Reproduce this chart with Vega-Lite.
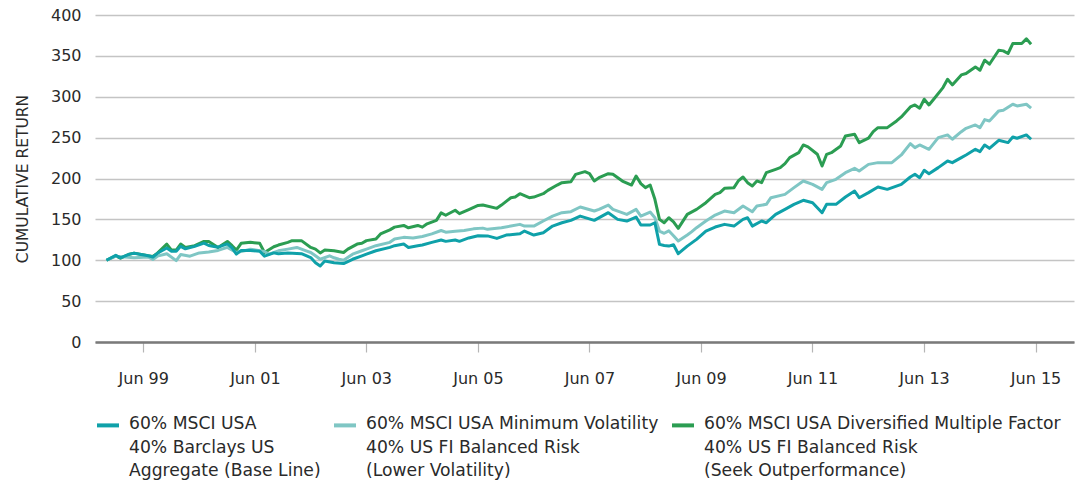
{
"$schema": "https://vega.github.io/schema/vega-lite/v6.json",
"width": 979, "height": 327,
"autosize": {"type": "none"},
"padding": {"left": 95, "top": 15, "right": 6, "bottom": 147},
"background": "white",
"config": {"view": {"stroke": null}, "font": "DejaVu Sans"},
"data": {"values": [
{"d":"1998-11-01","s":"multi","v":100},{"d":"1999-01-01","s":"multi","v":105.4},{"d":"1999-02-01","s":"multi","v":102.5},{"d":"1999-04-01","s":"multi","v":107.4},{"d":"1999-05-01","s":"multi","v":108.7},{"d":"1999-08-01","s":"multi","v":105.4},{"d":"1999-09-01","s":"multi","v":104.5},{"d":"1999-10-01","s":"multi","v":108.7},{"d":"1999-12-01","s":"multi","v":119.8},{"d":"2000-01-01","s":"multi","v":112.4},{"d":"2000-02-01","s":"multi","v":112.4},{"d":"2000-03-01","s":"multi","v":119.8},{"d":"2000-04-01","s":"multi","v":115.7},{"d":"2000-06-01","s":"multi","v":117.8},{"d":"2000-08-01","s":"multi","v":123},{"d":"2000-09-01","s":"multi","v":123},{"d":"2000-11-01","s":"multi","v":115.7},{"d":"2001-01-01","s":"multi","v":123},{"d":"2001-02-01","s":"multi","v":117.8},{"d":"2001-03-01","s":"multi","v":112.4},{"d":"2001-04-01","s":"multi","v":120.7},{"d":"2001-06-01","s":"multi","v":121.9},{"d":"2001-08-01","s":"multi","v":120.7},{"d":"2001-09-01","s":"multi","v":109.5},{"d":"2001-11-01","s":"multi","v":116.5},{"d":"2001-12-01","s":"multi","v":118.6},{"d":"2002-02-01","s":"multi","v":121.9},{"d":"2002-03-01","s":"multi","v":124},{"d":"2002-05-01","s":"multi","v":124},{"d":"2002-07-01","s":"multi","v":115.7},{"d":"2002-08-01","s":"multi","v":113.6},{"d":"2002-09-01","s":"multi","v":109},{"d":"2002-10-01","s":"multi","v":112.6},{"d":"2002-12-01","s":"multi","v":111.6},{"d":"2003-02-01","s":"multi","v":109.5},{"d":"2003-03-01","s":"multi","v":113.6},{"d":"2003-05-01","s":"multi","v":119.8},{"d":"2003-06-01","s":"multi","v":120.7},{"d":"2003-07-01","s":"multi","v":124},{"d":"2003-09-01","s":"multi","v":126},{"d":"2003-10-01","s":"multi","v":132.2},{"d":"2003-12-01","s":"multi","v":137.2},{"d":"2004-01-01","s":"multi","v":140.5},{"d":"2004-03-01","s":"multi","v":142.6},{"d":"2004-04-01","s":"multi","v":139.7},{"d":"2004-06-01","s":"multi","v":142.6},{"d":"2004-07-01","s":"multi","v":140.5},{"d":"2004-08-01","s":"multi","v":144.6},{"d":"2004-10-01","s":"multi","v":148.8},{"d":"2004-11-01","s":"multi","v":157.9},{"d":"2004-12-01","s":"multi","v":155},{"d":"2005-02-01","s":"multi","v":161.2},{"d":"2005-03-01","s":"multi","v":157},{"d":"2005-05-01","s":"multi","v":162},{"d":"2005-07-01","s":"multi","v":167},{"d":"2005-08-01","s":"multi","v":167.5},{"d":"2005-11-01","s":"multi","v":163.5},{"d":"2005-12-01","s":"multi","v":167.5},{"d":"2006-02-01","s":"multi","v":176.5},{"d":"2006-03-01","s":"multi","v":177.3},{"d":"2006-04-01","s":"multi","v":181.4},{"d":"2006-06-01","s":"multi","v":176.5},{"d":"2006-07-01","s":"multi","v":177.3},{"d":"2006-09-01","s":"multi","v":181.4},{"d":"2006-10-01","s":"multi","v":185.5},{"d":"2006-12-01","s":"multi","v":192},{"d":"2007-01-01","s":"multi","v":194.9},{"d":"2007-03-01","s":"multi","v":196.1},{"d":"2007-04-01","s":"multi","v":205.1},{"d":"2007-06-01","s":"multi","v":208.4},{"d":"2007-07-01","s":"multi","v":206},{"d":"2007-08-01","s":"multi","v":196.9},{"d":"2007-09-01","s":"multi","v":201},{"d":"2007-11-01","s":"multi","v":205.9},{"d":"2007-12-01","s":"multi","v":205.1},{"d":"2008-02-01","s":"multi","v":196.9},{"d":"2008-04-01","s":"multi","v":192},{"d":"2008-05-01","s":"multi","v":203},{"d":"2008-06-01","s":"multi","v":193.7},{"d":"2008-07-01","s":"multi","v":188.8},{"d":"2008-08-01","s":"multi","v":192},{"d":"2008-09-01","s":"multi","v":174.5},{"d":"2008-10-01","s":"multi","v":150},{"d":"2008-11-01","s":"multi","v":145.9},{"d":"2008-12-01","s":"multi","v":152},{"d":"2009-01-01","s":"multi","v":147},{"d":"2009-02-01","s":"multi","v":139},{"d":"2009-04-01","s":"multi","v":156.1},{"d":"2009-06-01","s":"multi","v":162.2},{"d":"2009-08-01","s":"multi","v":170.4},{"d":"2009-10-01","s":"multi","v":180.6},{"d":"2009-11-01","s":"multi","v":182.7},{"d":"2009-12-01","s":"multi","v":188},{"d":"2010-02-01","s":"multi","v":188.8},{"d":"2010-03-01","s":"multi","v":197},{"d":"2010-04-01","s":"multi","v":201.8},{"d":"2010-05-01","s":"multi","v":194.9},{"d":"2010-06-01","s":"multi","v":190.8},{"d":"2010-07-01","s":"multi","v":197},{"d":"2010-08-01","s":"multi","v":194.9},{"d":"2010-09-01","s":"multi","v":207.1},{"d":"2010-11-01","s":"multi","v":211.2},{"d":"2010-12-01","s":"multi","v":213.3},{"d":"2011-01-01","s":"multi","v":218.2},{"d":"2011-02-01","s":"multi","v":225.5},{"d":"2011-04-01","s":"multi","v":231.6},{"d":"2011-05-01","s":"multi","v":241},{"d":"2011-06-01","s":"multi","v":238.6},{"d":"2011-08-01","s":"multi","v":229.6},{"d":"2011-09-01","s":"multi","v":215.3},{"d":"2011-10-01","s":"multi","v":229.6},{"d":"2011-11-01","s":"multi","v":231.6},{"d":"2012-01-01","s":"multi","v":239.8},{"d":"2012-02-01","s":"multi","v":252},{"d":"2012-04-01","s":"multi","v":254.1},{"d":"2012-05-01","s":"multi","v":243.9},{"d":"2012-07-01","s":"multi","v":249.5},{"d":"2012-08-01","s":"multi","v":257.3},{"d":"2012-09-01","s":"multi","v":262.2},{"d":"2012-11-01","s":"multi","v":262.2},{"d":"2013-01-01","s":"multi","v":270.4},{"d":"2013-02-01","s":"multi","v":275.3},{"d":"2013-04-01","s":"multi","v":287.6},{"d":"2013-05-01","s":"multi","v":290},{"d":"2013-06-01","s":"multi","v":286},{"d":"2013-07-01","s":"multi","v":297},{"d":"2013-08-01","s":"multi","v":290},{"d":"2013-09-01","s":"multi","v":297},{"d":"2013-11-01","s":"multi","v":311.2},{"d":"2013-12-01","s":"multi","v":321.4},{"d":"2014-01-01","s":"multi","v":314.5},{"d":"2014-03-01","s":"multi","v":326.7},{"d":"2014-04-01","s":"multi","v":328.4},{"d":"2014-06-01","s":"multi","v":336.5},{"d":"2014-07-01","s":"multi","v":332.4},{"d":"2014-08-01","s":"multi","v":344.7},{"d":"2014-09-01","s":"multi","v":339.8},{"d":"2014-11-01","s":"multi","v":356.9},{"d":"2014-12-01","s":"multi","v":356.1},{"d":"2015-01-01","s":"multi","v":352.9},{"d":"2015-02-01","s":"multi","v":365.1},{"d":"2015-04-01","s":"multi","v":365.1},{"d":"2015-05-01","s":"multi","v":370.8},{"d":"2015-06-01","s":"multi","v":364.3},
{"d":"1998-11-01","s":"minvol","v":100},{"d":"1999-01-01","s":"minvol","v":105},{"d":"1999-05-01","s":"minvol","v":103},{"d":"1999-08-01","s":"minvol","v":104},{"d":"1999-09-01","s":"minvol","v":101},{"d":"1999-10-01","s":"minvol","v":105},{"d":"1999-12-01","s":"minvol","v":108},{"d":"2000-02-01","s":"minvol","v":99.5},{"d":"2000-03-01","s":"minvol","v":107},{"d":"2000-05-01","s":"minvol","v":105},{"d":"2000-07-01","s":"minvol","v":109},{"d":"2000-09-01","s":"minvol","v":110},{"d":"2000-11-01","s":"minvol","v":112},{"d":"2001-01-01","s":"minvol","v":115.7},{"d":"2001-03-01","s":"minvol","v":109.5},{"d":"2001-05-01","s":"minvol","v":112},{"d":"2001-06-01","s":"minvol","v":113.6},{"d":"2001-09-01","s":"minvol","v":110.7},{"d":"2001-10-01","s":"minvol","v":107.4},{"d":"2001-12-01","s":"minvol","v":111.5},{"d":"2002-02-01","s":"minvol","v":113.6},{"d":"2002-04-01","s":"minvol","v":115.7},{"d":"2002-06-01","s":"minvol","v":111.5},{"d":"2002-07-01","s":"minvol","v":109.5},{"d":"2002-08-01","s":"minvol","v":105.4},{"d":"2002-09-01","s":"minvol","v":101.2},{"d":"2002-11-01","s":"minvol","v":105.4},{"d":"2002-12-01","s":"minvol","v":103},{"d":"2003-01-01","s":"minvol","v":101.2},{"d":"2003-02-01","s":"minvol","v":100},{"d":"2003-04-01","s":"minvol","v":107.4},{"d":"2003-06-01","s":"minvol","v":111.6},{"d":"2003-07-01","s":"minvol","v":113.6},{"d":"2003-09-01","s":"minvol","v":117.8},{"d":"2003-12-01","s":"minvol","v":121.9},{"d":"2004-01-01","s":"minvol","v":126},{"d":"2004-03-01","s":"minvol","v":128},{"d":"2004-05-01","s":"minvol","v":127.3},{"d":"2004-07-01","s":"minvol","v":129},{"d":"2004-09-01","s":"minvol","v":132.2},{"d":"2004-11-01","s":"minvol","v":136.4},{"d":"2004-12-01","s":"minvol","v":134.3},{"d":"2005-02-01","s":"minvol","v":135.5},{"d":"2005-04-01","s":"minvol","v":136.4},{"d":"2005-06-01","s":"minvol","v":138.4},{"d":"2005-08-01","s":"minvol","v":139.3},{"d":"2005-09-01","s":"minvol","v":137.8},{"d":"2005-12-01","s":"minvol","v":139.8},{"d":"2006-02-01","s":"minvol","v":141.8},{"d":"2006-04-01","s":"minvol","v":143.9},{"d":"2006-05-01","s":"minvol","v":141.8},{"d":"2006-07-01","s":"minvol","v":141.8},{"d":"2006-09-01","s":"minvol","v":148},{"d":"2006-11-01","s":"minvol","v":154},{"d":"2007-01-01","s":"minvol","v":158.2},{"d":"2007-03-01","s":"minvol","v":159.4},{"d":"2007-05-01","s":"minvol","v":165.1},{"d":"2007-08-01","s":"minvol","v":160.2},{"d":"2007-09-01","s":"minvol","v":162.2},{"d":"2007-11-01","s":"minvol","v":167.5},{"d":"2007-12-01","s":"minvol","v":162.2},{"d":"2008-03-01","s":"minvol","v":156.1},{"d":"2008-05-01","s":"minvol","v":162.2},{"d":"2008-06-01","s":"minvol","v":154},{"d":"2008-08-01","s":"minvol","v":159},{"d":"2008-09-01","s":"minvol","v":152},{"d":"2008-10-01","s":"minvol","v":135.7},{"d":"2008-11-01","s":"minvol","v":133},{"d":"2008-12-01","s":"minvol","v":136},{"d":"2009-01-01","s":"minvol","v":130},{"d":"2009-02-01","s":"minvol","v":123.5},{"d":"2009-04-01","s":"minvol","v":130.8},{"d":"2009-05-01","s":"minvol","v":135},{"d":"2009-06-01","s":"minvol","v":139.8},{"d":"2009-08-01","s":"minvol","v":148},{"d":"2009-10-01","s":"minvol","v":155.3},{"d":"2009-12-01","s":"minvol","v":160.2},{"d":"2010-02-01","s":"minvol","v":158.2},{"d":"2010-04-01","s":"minvol","v":166.3},{"d":"2010-06-01","s":"minvol","v":159.4},{"d":"2010-07-01","s":"minvol","v":166.3},{"d":"2010-09-01","s":"minvol","v":168.4},{"d":"2010-10-01","s":"minvol","v":176.5},{"d":"2011-01-01","s":"minvol","v":180.6},{"d":"2011-03-01","s":"minvol","v":188.8},{"d":"2011-05-01","s":"minvol","v":196.9},{"d":"2011-07-01","s":"minvol","v":192.9},{"d":"2011-09-01","s":"minvol","v":186.7},{"d":"2011-10-01","s":"minvol","v":194.9},{"d":"2011-12-01","s":"minvol","v":199},{"d":"2012-02-01","s":"minvol","v":207.1},{"d":"2012-04-01","s":"minvol","v":212.4},{"d":"2012-05-01","s":"minvol","v":209.2},{"d":"2012-07-01","s":"minvol","v":217.3},{"d":"2012-09-01","s":"minvol","v":219.4},{"d":"2012-12-01","s":"minvol","v":219.4},{"d":"2013-02-01","s":"minvol","v":228.8},{"d":"2013-04-01","s":"minvol","v":242.7},{"d":"2013-05-01","s":"minvol","v":237.8},{"d":"2013-06-01","s":"minvol","v":241},{"d":"2013-08-01","s":"minvol","v":235.7},{"d":"2013-10-01","s":"minvol","v":250},{"d":"2013-12-01","s":"minvol","v":253.3},{"d":"2014-01-01","s":"minvol","v":248},{"d":"2014-03-01","s":"minvol","v":257.3},{"d":"2014-04-01","s":"minvol","v":261.4},{"d":"2014-06-01","s":"minvol","v":265.5},{"d":"2014-07-01","s":"minvol","v":262.2},{"d":"2014-08-01","s":"minvol","v":272},{"d":"2014-09-01","s":"minvol","v":270.4},{"d":"2014-11-01","s":"minvol","v":282.7},{"d":"2014-12-01","s":"minvol","v":283.5},{"d":"2015-02-01","s":"minvol","v":290.8},{"d":"2015-03-01","s":"minvol","v":288.8},{"d":"2015-05-01","s":"minvol","v":290.8},{"d":"2015-06-01","s":"minvol","v":286},
{"d":"1998-11-01","s":"base","v":100},{"d":"1999-01-01","s":"base","v":106},{"d":"1999-02-01","s":"base","v":103},{"d":"1999-04-01","s":"base","v":107.5},{"d":"1999-05-01","s":"base","v":108.5},{"d":"1999-08-01","s":"base","v":105.5},{"d":"1999-09-01","s":"base","v":104},{"d":"1999-10-01","s":"base","v":108.5},{"d":"1999-12-01","s":"base","v":115},{"d":"2000-01-01","s":"base","v":111},{"d":"2000-02-01","s":"base","v":111},{"d":"2000-03-01","s":"base","v":117},{"d":"2000-04-01","s":"base","v":114},{"d":"2000-06-01","s":"base","v":117},{"d":"2000-08-01","s":"base","v":121},{"d":"2000-09-01","s":"base","v":118},{"d":"2000-11-01","s":"base","v":116},{"d":"2001-01-01","s":"base","v":120},{"d":"2001-02-01","s":"base","v":115},{"d":"2001-03-01","s":"base","v":107.5},{"d":"2001-04-01","s":"base","v":112},{"d":"2001-06-01","s":"base","v":112},{"d":"2001-08-01","s":"base","v":111},{"d":"2001-09-01","s":"base","v":105},{"d":"2001-11-01","s":"base","v":109},{"d":"2001-12-01","s":"base","v":108},{"d":"2002-02-01","s":"base","v":109},{"d":"2002-05-01","s":"base","v":108},{"d":"2002-07-01","s":"base","v":103.3},{"d":"2002-08-01","s":"base","v":97},{"d":"2002-09-01","s":"base","v":93},{"d":"2002-10-01","s":"base","v":99},{"d":"2002-12-01","s":"base","v":97},{"d":"2003-02-01","s":"base","v":96},{"d":"2003-04-01","s":"base","v":101.2},{"d":"2003-06-01","s":"base","v":105.4},{"d":"2003-07-01","s":"base","v":107.4},{"d":"2003-09-01","s":"base","v":111.6},{"d":"2003-12-01","s":"base","v":115.7},{"d":"2004-01-01","s":"base","v":117.8},{"d":"2004-03-01","s":"base","v":119.8},{"d":"2004-04-01","s":"base","v":115.7},{"d":"2004-06-01","s":"base","v":117.8},{"d":"2004-07-01","s":"base","v":118.6},{"d":"2004-09-01","s":"base","v":121.9},{"d":"2004-11-01","s":"base","v":124.8},{"d":"2004-12-01","s":"base","v":123.1},{"d":"2005-02-01","s":"base","v":124.8},{"d":"2005-03-01","s":"base","v":123.1},{"d":"2005-05-01","s":"base","v":127.3},{"d":"2005-07-01","s":"base","v":130},{"d":"2005-09-01","s":"base","v":129.8},{"d":"2005-11-01","s":"base","v":126.7},{"d":"2006-01-01","s":"base","v":130.8},{"d":"2006-04-01","s":"base","v":132.4},{"d":"2006-05-01","s":"base","v":135.7},{"d":"2006-07-01","s":"base","v":130.8},{"d":"2006-09-01","s":"base","v":133.7},{"d":"2006-11-01","s":"base","v":141.8},{"d":"2007-01-01","s":"base","v":145.9},{"d":"2007-03-01","s":"base","v":148.8},{"d":"2007-05-01","s":"base","v":154},{"d":"2007-08-01","s":"base","v":148.8},{"d":"2007-11-01","s":"base","v":158.2},{"d":"2008-01-01","s":"base","v":150},{"d":"2008-03-01","s":"base","v":148},{"d":"2008-05-01","s":"base","v":152.9},{"d":"2008-06-01","s":"base","v":143.1},{"d":"2008-08-01","s":"base","v":143.1},{"d":"2008-09-01","s":"base","v":145.9},{"d":"2008-10-01","s":"base","v":119.4},{"d":"2008-11-01","s":"base","v":118},{"d":"2008-12-01","s":"base","v":117.3},{"d":"2009-01-01","s":"base","v":119},{"d":"2009-02-01","s":"base","v":108},{"d":"2009-04-01","s":"base","v":117.3},{"d":"2009-06-01","s":"base","v":125.5},{"d":"2009-08-01","s":"base","v":135.7},{"d":"2009-10-01","s":"base","v":140.6},{"d":"2009-12-01","s":"base","v":143.9},{"d":"2010-02-01","s":"base","v":141.8},{"d":"2010-04-01","s":"base","v":150},{"d":"2010-05-01","s":"base","v":152},{"d":"2010-06-01","s":"base","v":141.8},{"d":"2010-08-01","s":"base","v":148},{"d":"2010-09-01","s":"base","v":145.9},{"d":"2010-11-01","s":"base","v":156.1},{"d":"2011-01-01","s":"base","v":162.2},{"d":"2011-03-01","s":"base","v":168.4},{"d":"2011-05-01","s":"base","v":173.3},{"d":"2011-07-01","s":"base","v":170.4},{"d":"2011-09-01","s":"base","v":158.2},{"d":"2011-10-01","s":"base","v":168.4},{"d":"2011-12-01","s":"base","v":168.4},{"d":"2012-02-01","s":"base","v":177.3},{"d":"2012-04-01","s":"base","v":184.7},{"d":"2012-05-01","s":"base","v":176.5},{"d":"2012-07-01","s":"base","v":182.7},{"d":"2012-09-01","s":"base","v":189.6},{"d":"2012-11-01","s":"base","v":186.7},{"d":"2013-02-01","s":"base","v":192.9},{"d":"2013-04-01","s":"base","v":201.8},{"d":"2013-05-01","s":"base","v":205.1},{"d":"2013-06-01","s":"base","v":201},{"d":"2013-07-01","s":"base","v":210},{"d":"2013-08-01","s":"base","v":205.9},{"d":"2013-10-01","s":"base","v":213.3},{"d":"2013-12-01","s":"base","v":221.4},{"d":"2014-01-01","s":"base","v":219.4},{"d":"2014-03-01","s":"base","v":225.5},{"d":"2014-04-01","s":"base","v":228.8},{"d":"2014-06-01","s":"base","v":235.7},{"d":"2014-07-01","s":"base","v":232.9},{"d":"2014-08-01","s":"base","v":241},{"d":"2014-09-01","s":"base","v":236.9},{"d":"2014-11-01","s":"base","v":246.7},{"d":"2015-01-01","s":"base","v":243.9},{"d":"2015-02-01","s":"base","v":250.8},{"d":"2015-03-01","s":"base","v":249.2},{"d":"2015-05-01","s":"base","v":253.3},{"d":"2015-06-01","s":"base","v":248}
]},
"mark": {"type": "line", "strokeWidth": 3, "strokeJoin": "round"},
"encoding": {
  "x": {"field": "d", "type": "temporal",
    "scale": {"type": "utc", "domain": [{"year": 1998, "month": 8, "date": 18, "utc": true}, {"year": 2016, "month": 3, "date": 8, "utc": true}]},
    "axis": {"title": null, "grid": false, "format": "%b %y",
      "values": [{"year":1999,"month":6,"date":30,"utc":true},{"year":2001,"month":6,"date":30,"utc":true},{"year":2003,"month":6,"date":30,"utc":true},{"year":2005,"month":6,"date":30,"utc":true},{"year":2007,"month":6,"date":30,"utc":true},{"year":2009,"month":6,"date":30,"utc":true},{"year":2011,"month":6,"date":30,"utc":true},{"year":2013,"month":6,"date":30,"utc":true},{"year":2015,"month":6,"date":30,"utc":true}],
      "labelFontSize": 16, "labelColor": "#2a2a2a", "labelPadding": 18, "labelFlush": false,
      "tickSize": 10, "tickColor": "#b5b5b5", "tickWidth": 1.2,
      "domainColor": "#7a7a7a", "domainWidth": 2.5}},
  "y": {"field": "v", "type": "quantitative",
    "scale": {"domain": [0, 400]},
    "axis": {"title": "CUMULATIVE RETURN", "titleFontSize": 15.5, "titleFontWeight": "normal", "titleColor": "#2a2a2a", "titlePadding": 20,
      "values": [0, 50, 100, 150, 200, 250, 300, 350, 400],
      "labelFontSize": 16, "labelColor": "#2a2a2a", "labelPadding": 14,
      "ticks": false, "domain": false, "gridColor": "#c4c4c4", "gridWidth": 1.5}},
  "color": {"field": "s", "type": "nominal",
    "scale": {"domain": ["base", "minvol", "multi"], "range": ["#0fa1a9", "#7fc6c4", "#2b9d52"]},
    "legend": {"title": null, "orient": "none", "legendX": 0, "legendY": 397, "direction": "horizontal", "columns": 3,
      "symbolType": "stroke", "symbolSize": 484, "symbolStrokeWidth": 4,
      "labelFontSize": 17.2, "labelColor": "#2a2a2a", "labelOffset": 8, "labelLimit": 600, "columnPadding": 5,
      "labelBaseline": "top",
      "labelExpr": "datum.value == 'base' ? ['60% MSCI USA', '40% Barclays US', 'Aggregate (Base Line)'] : datum.value == 'minvol' ? ['60% MSCI USA Minimum Volatility', '40% US FI Balanced Risk', '(Lower Volatility)'] : ['60% MSCI USA Diversified Multiple Factor', '40% US FI Balanced Risk', ' (Seek Outperformance)']",
      "encode": {"labels": {"update": {"lineHeight": {"value": 23.5}, "dy": {"value": -10}}}}}}
}
}
